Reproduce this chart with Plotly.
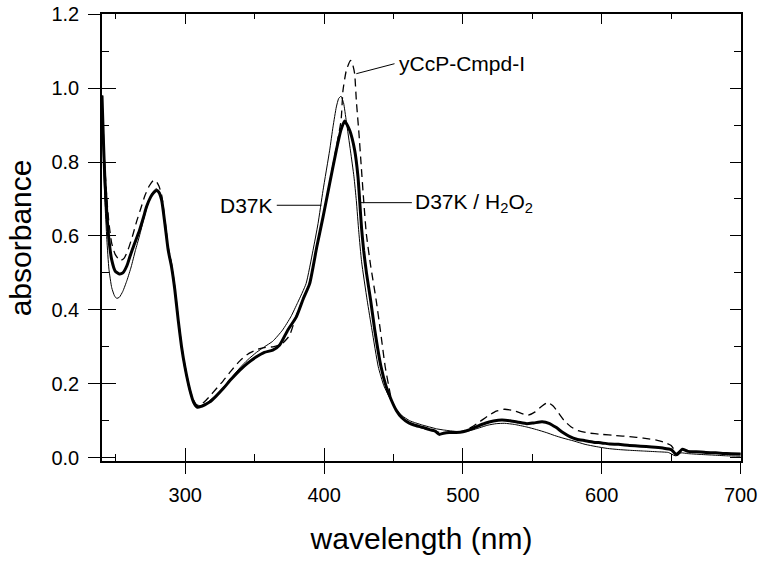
import plotly.graph_objects as go

# ---------------- data ----------------
wl_d37k_h2o2 = [240, 241, 242, 243.5, 245, 247, 249.5, 252.5, 255, 258, 260, 263, 267, 270, 272, 275, 277, 279.3, 281, 283,
                285.3, 287.7, 290.1, 292.5, 294.9, 297.3, 299.7, 303.3, 306, 308.5, 311, 314, 317.7, 322, 327.3, 333, 339.3,
                345, 351.3, 357, 363, 368, 373.8, 380, 385, 389.6, 394.7, 399.2, 404, 408.8, 412, 414.8, 418.4, 422, 424.4,
                425.6, 427, 428.5, 430.5, 433.5, 436.5, 441, 444.5, 448.4, 452, 456, 461, 466, 471, 476, 480, 483, 486, 490,
                495, 500, 505, 510, 516, 522, 528, 534, 540, 546, 551, 557, 562, 567, 572, 577, 582, 588, 594, 600, 606, 612,
                620, 628, 636, 644, 650, 654, 658, 662, 668, 675, 682, 690, 700]
abs_d37k_h2o2 = [0.98, 0.86, 0.76, 0.66, 0.59, 0.535, 0.505, 0.497, 0.50, 0.52, 0.543, 0.575, 0.615, 0.652, 0.678, 0.705,
                 0.716, 0.723, 0.718, 0.696, 0.633, 0.561, 0.516, 0.453, 0.372, 0.30, 0.246, 0.183, 0.150, 0.137, 0.138,
                 0.143, 0.151, 0.166, 0.187, 0.212, 0.237, 0.256, 0.273, 0.285, 0.291, 0.305, 0.345, 0.381, 0.43, 0.471,
                 0.57, 0.651, 0.742, 0.832, 0.885, 0.911, 0.886, 0.832, 0.76, 0.696, 0.62, 0.56, 0.50, 0.426, 0.345, 0.246,
                 0.195, 0.156, 0.128, 0.108, 0.094, 0.087, 0.082, 0.076, 0.072, 0.063, 0.066, 0.068, 0.068, 0.070, 0.076,
                 0.084, 0.093, 0.099, 0.102, 0.100, 0.096, 0.092, 0.094, 0.097, 0.093, 0.082, 0.068, 0.057, 0.050, 0.046,
                 0.042, 0.040, 0.037, 0.036, 0.033, 0.031, 0.029, 0.026, 0.022, 0.008, 0.023, 0.017, 0.016, 0.014, 0.013,
                 0.011, 0.010]

wl_d37k = [240, 241, 242, 243.5, 245, 247, 249, 250.6, 252.5, 255, 258, 261, 264, 267, 270, 273, 276, 279, 281, 283, 285.3,
           287.7, 290.1, 292.5, 294.9, 297.3, 299.7, 303.3, 306, 309, 312, 316, 322, 327.3, 333, 339.3, 345, 351.3, 357,
           363, 370, 376, 381, 387, 392, 395.6, 399.2, 404, 406.4, 408.8, 410.5, 412.2, 414, 416, 419, 421.5, 423.2, 425,
           427, 431, 434.5, 439, 443, 448, 452, 456, 461.6, 466, 471, 476, 481, 486, 490, 495, 500, 506, 512, 518, 524,
           530, 537, 546, 553, 560, 566, 572, 580, 588, 596, 604, 612, 620, 630, 640, 648, 653, 657, 662, 670, 680, 690, 700]
abs_d37k = [0.98, 0.82, 0.70, 0.59, 0.51, 0.46, 0.438, 0.431, 0.434, 0.45, 0.48, 0.516, 0.56, 0.60, 0.645, 0.685, 0.715,
            0.728, 0.722, 0.70, 0.635, 0.56, 0.515, 0.45, 0.37, 0.295, 0.24, 0.178, 0.15, 0.14, 0.142, 0.15, 0.168, 0.19,
            0.215, 0.243, 0.265, 0.285, 0.30, 0.315, 0.345, 0.381, 0.42, 0.471, 0.561, 0.633, 0.723, 0.832, 0.895, 0.949,
            0.972, 0.978, 0.96, 0.91, 0.83, 0.76, 0.696, 0.61, 0.53, 0.426, 0.345, 0.246, 0.195, 0.156, 0.13, 0.114, 0.10,
            0.094, 0.088, 0.083, 0.078, 0.075, 0.073, 0.071, 0.070, 0.074, 0.081, 0.088, 0.092, 0.093, 0.09, 0.083, 0.076,
            0.068, 0.06, 0.053, 0.045, 0.036, 0.030, 0.025, 0.022, 0.020, 0.018, 0.016, 0.014, 0.005, 0.013, 0.011, 0.009,
            0.007, 0.005, 0.004]

wl_cmpd_i = [240, 241, 242, 243.5, 245, 247, 249.5, 252, 253.7, 256, 259, 262, 265, 268, 271, 274, 277, 279, 281, 283, 285.3,
             287.7, 290.1, 292.5, 294.9, 297.3, 299.7, 303.3, 306, 308.5, 311, 314, 318, 322, 327.3, 333, 339.3, 345, 351.3,
             357, 363.2, 369, 375, 380, 385, 389.6, 394.7, 399.2, 404, 408.8, 412.2, 413.6, 416, 419, 420.5, 422, 423.2,
             425.1, 426.8, 428.5, 430.4, 433.5, 437.5, 440.5, 444, 446.5, 448.6, 452, 456, 461, 466, 471, 476, 481, 486,
             490, 495, 500, 506, 512, 518, 524, 530, 536, 542, 547, 552, 557, 561, 565, 569, 573, 578, 583, 590, 600, 610,
             620, 630, 640, 646, 650, 654, 658, 662, 670, 680, 690, 700]
abs_cmpd_i = [0.98, 0.88, 0.79, 0.70, 0.635, 0.58, 0.55, 0.537, 0.534, 0.54, 0.565, 0.60, 0.64, 0.675, 0.71, 0.735, 0.75,
              0.748, 0.735, 0.71, 0.645, 0.57, 0.525, 0.46, 0.378, 0.305, 0.25, 0.185, 0.155, 0.142, 0.143, 0.152, 0.168,
              0.185, 0.208, 0.235, 0.262, 0.28, 0.292, 0.298, 0.30, 0.306, 0.33, 0.385, 0.43, 0.475, 0.57, 0.651, 0.745,
              0.84, 0.912, 0.994, 1.048, 1.075, 1.065, 1.039, 0.967, 0.877, 0.786, 0.696, 0.606, 0.52, 0.426, 0.345, 0.246,
              0.195, 0.156, 0.128, 0.11, 0.095, 0.086, 0.08, 0.074, 0.07, 0.067, 0.067, 0.068, 0.072, 0.082, 0.097, 0.113,
              0.126, 0.131, 0.128, 0.12, 0.115, 0.124, 0.14, 0.149, 0.14, 0.12, 0.10, 0.083, 0.073, 0.067, 0.063, 0.06,
              0.057, 0.053, 0.047, 0.04, 0.033, 0.013, 0.022, 0.018, 0.015, 0.013, 0.011, 0.010]

x_major = [300, 400, 500, 600, 700]
x_minor = [250, 350, 450, 550, 650]
y_major = [0.0, 0.2, 0.4, 0.6, 0.8, 1.0, 1.2]
y_major_labels = ["0.0", "0.2", "0.4", "0.6", "0.8", "1.0", "1.2"]
y_minor = [0.1, 0.3, 0.5, 0.7, 0.9, 1.1]

X_RANGE = [240, 700.3]
Y_RANGE = [-0.009, 1.2005]

FONT = "Liberation Sans, Arial, Helvetica, sans-serif"

fig = go.Figure()
fig.add_trace(go.Scatter(x=wl_cmpd_i, y=abs_cmpd_i, mode="lines", name="yCcP-Cmpd-I",
                         line=dict(color="black", width=1.3, dash="8px,5px", shape="spline", smoothing=0.5)))
fig.add_trace(go.Scatter(x=wl_d37k, y=abs_d37k, mode="lines", name="D37K",
                         line=dict(color="black", width=1.0, shape="spline", smoothing=0.5)))
fig.add_trace(go.Scatter(x=wl_d37k_h2o2, y=abs_d37k_h2o2, mode="lines", name="D37K / H2O2",
                         line=dict(color="black", width=3.0, shape="spline", smoothing=0.5)))

# empty helper traces so the frame / tick-only axes are drawn
for xa, ya in [("x2", "y"), ("x3", "y"), ("x", "y2"), ("x", "y3")]:
    fig.add_trace(go.Scatter(x=[], y=[], xaxis=xa, yaxis=ya, mode="lines", hoverinfo="skip", showlegend=False))

fig.update_layout(
    width=762, height=561,
    margin=dict(l=102, r=21, t=14, b=100),
    paper_bgcolor="white", plot_bgcolor="white",
    showlegend=False,
    font=dict(family=FONT, color="black"),
    xaxis=dict(range=X_RANGE, automargin=False, showgrid=False, zeroline=False, showline=True, linecolor="black",
               linewidth=1.6, ticks="outside", ticklen=11, tickwidth=1.4, tickcolor="black",
               tickvals=x_major, ticktext=[str(v) for v in x_major],
               tickfont=dict(size=20, family=FONT), ticklabelstandoff=4,
               minor=dict(ticks="inside", ticklen=7, tickwidth=1.2, tickcolor="black", tickvals=x_minor),
               title=dict(text="wavelength (nm)", font=dict(size=30, family=FONT), standoff=23)),
    xaxis3=dict(range=X_RANGE, overlaying="x", side="bottom", anchor="y", automargin=False, showgrid=False,
                zeroline=False, showline=False, ticks="inside", ticklen=13, tickwidth=1.4, tickcolor="black",
                tickvals=x_major, showticklabels=False),
    xaxis2=dict(range=X_RANGE, overlaying="x", side="top", anchor="y", automargin=False, showgrid=False,
                zeroline=False, showline=True, linecolor="black", linewidth=1.6,
                ticks="inside", ticklen=10, tickwidth=1.4, tickcolor="black",
                tickvals=x_major, showticklabels=False,
                minor=dict(ticks="inside", ticklen=5, tickwidth=1.2, tickcolor="black", tickvals=x_minor)),
    yaxis=dict(range=Y_RANGE, automargin=False, showgrid=False, zeroline=False, showline=True, linecolor="black",
               linewidth=1.6, ticks="outside", ticklen=12, tickwidth=1.4, tickcolor="black",
               tickvals=y_major, ticktext=y_major_labels,
               tickfont=dict(size=20, family=FONT), ticklabelstandoff=5,
               minor=dict(ticks="inside", ticklen=7, tickwidth=1.2, tickcolor="black", tickvals=y_minor)),
    yaxis3=dict(range=Y_RANGE, overlaying="y", side="left", anchor="x", automargin=False, showgrid=False,
                zeroline=False, showline=False, ticks="inside", ticklen=14, tickwidth=1.4, tickcolor="black",
                tickvals=y_major, showticklabels=False),
    yaxis2=dict(range=Y_RANGE, overlaying="y", side="right", anchor="x", automargin=False, showgrid=False,
                zeroline=False, showline=True, linecolor="black", linewidth=1.6,
                ticks="inside", ticklen=11, tickwidth=1.4, tickcolor="black",
                tickvals=y_major, showticklabels=False,
                minor=dict(ticks="inside", ticklen=7, tickwidth=1.2, tickcolor="black", tickvals=y_minor)),
)

# y-axis title placed as a rotated annotation
fig.add_annotation(x=-0.127, y=0.5, xref="paper", yref="paper", text="absorbance", textangle=-90,
                   showarrow=False, xanchor="center", yanchor="middle",
                   font=dict(size=30, family=FONT, color="black"))

# label leader lines
leader = dict(type="line", xref="x", yref="y", line=dict(color="black", width=1))
fig.add_shape(**leader, x0=423.2, y0=1.039, x1=450.7, y1=1.066)
fig.add_shape(**leader, x0=425.2, y0=0.690, x1=463.2, y1=0.690)
fig.add_shape(**leader, x0=365.9, y0=0.683, x1=398.0, y1=0.683)

fig.add_annotation(x=452.2, y=1.067, xref="x", yref="y", text="yCcP-Cmpd-I", showarrow=False,
                   xanchor="left", yanchor="middle", font=dict(size=21, family=FONT, color="black"))
fig.add_annotation(x=464.0, y=0.690, xref="x", yref="y", text="D37K / H<sub>2</sub>O<sub>2</sub>", showarrow=False,
                   xanchor="left", yanchor="middle", font=dict(size=21, family=FONT, color="black"))
fig.add_annotation(x=364.8, y=0.683, xref="x", yref="y", text="D37K", showarrow=False,
                   xanchor="right", yanchor="middle", font=dict(size=21, family=FONT, color="black"))

# remove the default 8px page margin so the 762x561 figure fills the window exactly
fig.write_html("out.html",
               config={"displayModeBar": False},
               post_script="document.body.style.margin='0';document.body.style.overflow='hidden';")
